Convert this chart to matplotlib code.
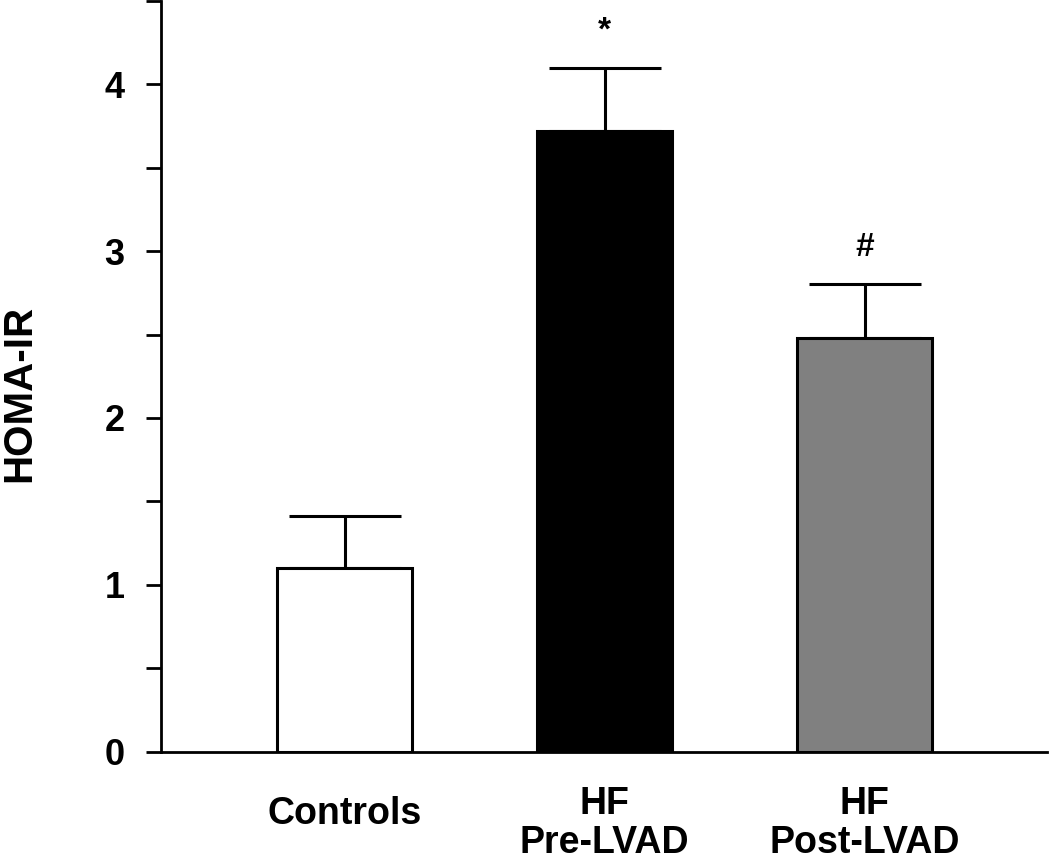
import matplotlib
matplotlib.use("Agg")
import matplotlib.pyplot as plt
import matplotlib.transforms as mtransforms
import numpy as np

categories = ["Controls", "HF\nPre-LVAD", "HF\nPost-LVAD"]
means = [1.10, 3.72, 2.48]
sem = [0.31, 0.38, 0.32]
bar_colors = ["#ffffff", "#000000", "#808080"]
annotations = ["", "*", "#"]
y_ticks = [0, 1, 2, 3, 4]

plt.rcParams['font.family'] = ['Liberation Sans', 'DejaVu Sans']
plt.rcParams['font.weight'] = 'bold'

fig = plt.figure(figsize=(10.5, 8.6), dpi=100)
ax = fig.add_axes([0.153, 0.126, 0.844, 0.873])

x = np.arange(len(categories))
ax.bar(x, means, width=0.52, color=bar_colors, edgecolor="black", linewidth=2.2, zorder=2)
ax.errorbar(x, means, yerr=[np.zeros(len(sem)), sem], fmt="none", ecolor="black",
            elinewidth=2.2, capsize=40, capthick=2.2, zorder=1)

for xi, m, s, a in zip(x, means, sem, annotations):
    if a:
        ax.text(xi, m + s + 0.22, a, ha="center", va="center", fontsize=24, fontweight="bold")

ax.set_xlim(-0.708, 2.70)
ax.set_ylim(0, 4.5)
ax.set_yticks(y_ticks)
ax.set_yticks(np.arange(0, 4.51, 0.5), minor=True)
ax.set_yticklabels([str(t) for t in y_ticks], fontsize=26, fontweight="bold")
ax.tick_params(axis="y", which="both", direction="out", length=11, width=2, pad=15)
ax.set_xticks(x)
ax.set_xticklabels(categories, fontsize=27, fontweight="bold", linespacing=1.1,
                   va="center")
ax.tick_params(axis="x", length=0, pad=52)
first = ax.get_xticklabels()[0]
first.set_transform(first.get_transform() +
                    mtransforms.ScaledTranslation(0, 10 / 100, fig.dpi_scale_trans))

for side in ["top", "right"]:
    ax.spines[side].set_visible(False)
for side in ["left", "bottom"]:
    ax.spines[side].set_linewidth(2)

fig.text(0.018, 1 - 393 / 860, "HOMA-IR", rotation=90, ha="center", va="center",
         fontsize=29, fontweight="bold")

fig.savefig("out.png", dpi=100)
